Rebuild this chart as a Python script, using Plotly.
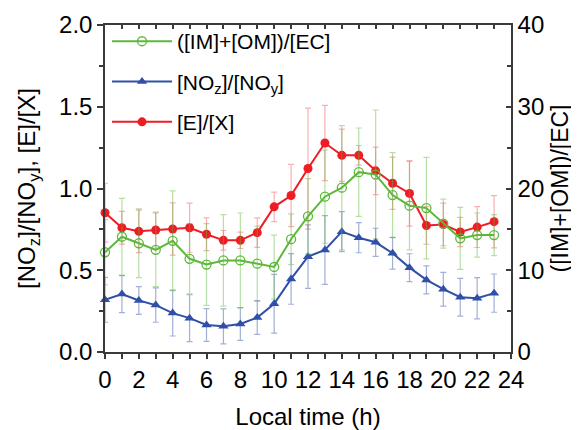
import plotly.graph_objects as go

hours = list(range(24))

# ([IM]+[OM])/[EC]  (right axis)
im_om_ec = [12.2, 14.1, 13.3, 12.5, 13.6, 11.4, 10.7, 11.2, 11.2, 10.8, 10.4, 13.8,
            16.6, 19.0, 20.1, 22.0, 21.7, 19.2, 17.9, 17.6, 15.7, 13.9, 14.3, 14.3]
im_om_ec_err = [4.0, 4.7, 4.2, 4.5, 6.1, 4.3, 5.0, 5.6, 5.8, 4.6, 3.9, 3.1,
                4.6, 5.7, 7.6, 5.4, 7.9, 5.2, 5.4, 6.2, 3.0, 3.8, 2.7, 2.5]

# [NOz]/[NOy]  (left axis)
noz_noy = [0.319, 0.354, 0.315, 0.287, 0.238, 0.207, 0.165, 0.157, 0.171, 0.211, 0.295, 0.447,
           0.583, 0.624, 0.736, 0.699, 0.671, 0.604, 0.516, 0.441, 0.384, 0.335, 0.329, 0.360]
noz_noy_err = [0.137, 0.113, 0.085, 0.105, 0.140, 0.143, 0.100, 0.107, 0.100, 0.103, 0.180, 0.155,
               0.194, 0.210, 0.122, 0.092, 0.086, 0.097, 0.085, 0.086, 0.103, 0.115, 0.126, 0.117]

# [E]/[X]  (left axis)
e_x = [0.852, 0.760, 0.738, 0.746, 0.752, 0.760, 0.720, 0.683, 0.683, 0.730, 0.888, 0.957,
       1.122, 1.278, 1.203, 1.203, 1.108, 1.032, 0.970, 0.774, 0.780, 0.734, 0.764, 0.797]
e_x_err = [0.18, 0.10, 0.13, 0.11, 0.16, 0.15, 0.10, 0.06, 0.05, 0.09, 0.09, 0.19,
           0.37, 0.23, 0.16, 0.06, 0.145, 0.16, 0.20, 0.115, 0.13, 0.09, 0.125, 0.16]

x_ticks = list(range(0, 25, 2))

GREEN = "#5cb83a"
BLUE = "#3050a8"
RED = "#ee1c24"
AXC = "#3a3a3a"
FONT = "Liberation Sans, Arial, sans-serif"

fig = go.Figure()

fig.add_trace(go.Scatter(
    x=hours, y=im_om_ec, yaxis="y2", name="([IM]+[OM])/[EC]", legendgroup="g1",
    mode="lines+markers",
    line=dict(color=GREEN, width=2),
    marker=dict(symbol="circle-open", size=9, color=GREEN, line=dict(width=1.3, color=GREEN)),
    error_y=dict(type="data", array=im_om_ec_err, color="rgba(93,184,58,0.45)", thickness=1.2, width=3),
    cliponaxis=False,
))
fig.add_trace(go.Scatter(
    x=hours, y=noz_noy, name="[NO<sub>z</sub>]/[NO<sub>y</sub>]", legendgroup="g2",
    mode="lines+markers",
    line=dict(color=BLUE, width=2),
    marker=dict(symbol="triangle-up", size=9, color=BLUE),
    error_y=dict(type="data", array=noz_noy_err, color="rgba(48,80,168,0.45)", thickness=1.2, width=3),
    cliponaxis=False,
))
fig.add_trace(go.Scatter(
    x=hours, y=e_x, name="[E]/[X]", legendgroup="g3",
    mode="lines+markers",
    line=dict(color=RED, width=2),
    marker=dict(symbol="circle", size=9, color=RED),
    error_y=dict(type="data", array=e_x_err, color="rgba(238,28,36,0.35)", thickness=1.2, width=3),
    cliponaxis=False,
))
# invisible trace to activate top axis
fig.add_trace(go.Scatter(x=[0, 24], y=[0, 0], xaxis="x2", mode="none", showlegend=False, hoverinfo="skip"))

fig.update_layout(
    width=571, height=422,
    margin=dict(l=97, r=68, t=17, b=78, autoexpand=False),
    plot_bgcolor="white", paper_bgcolor="white",
    font=dict(family=FONT, size=24, color="black"),
    showlegend=True,
    legend=dict(x=0.005, y=1.012, xanchor="left", yanchor="top", bgcolor="rgba(0,0,0,0)",
                font=dict(size=21), tracegroupgap=10, traceorder="grouped", itemwidth=60),
    xaxis=dict(range=[0, 24], tickvals=x_ticks, ticks="outside", ticklen=5, tickwidth=1.5,
               tickcolor=AXC, showline=True, linecolor=AXC, linewidth=1.5, showgrid=False,
               zeroline=False, tickfont=dict(size=24), automargin=False,
               minor=dict(dtick=1, ticks="outside", ticklen=5, tickwidth=1.5, tickcolor=AXC, showgrid=False),
               title=dict(text="Local time (h)", font=dict(size=24), standoff=20)),
    xaxis2=dict(range=[0, 24], overlaying="x", side="top", anchor="y", dtick=1, ticks="inside",
                ticklen=4, tickwidth=1.5, tickcolor=AXC, showticklabels=False, showline=True,
                linecolor=AXC, linewidth=1.5, showgrid=False, zeroline=False, automargin=False),
    yaxis=dict(range=[0, 2], dtick=0.5, tickformat=".1f", ticks="outside", ticklen=6, tickwidth=1.5,
               tickcolor=AXC, showline=True, linecolor=AXC, linewidth=1.5, showgrid=False,
               zeroline=False, tickfont=dict(size=24), automargin=False,
               minor=dict(dtick=0.25, ticks="outside", ticklen=4, tickwidth=1.5, tickcolor=AXC, showgrid=False),
               title=dict(text="[NO<sub>z</sub>]/[NO<sub>y</sub>], [E]/[X]", font=dict(size=24), standoff=17)),
    yaxis2=dict(range=[0, 40], dtick=10, overlaying="y", side="right", anchor="x", ticks="inside",
                ticklen=5, tickwidth=1.5, tickcolor=AXC, showline=True, linecolor=AXC, linewidth=1.5,
                showgrid=False, zeroline=False, tickfont=dict(size=24), automargin=False,
                minor=dict(dtick=5, ticks="inside", ticklen=4, tickwidth=1.5, tickcolor=AXC, showgrid=False),
                title=dict(text="([IM]+[OM])/[EC]", font=dict(size=23), standoff=9)),
)

fig.write_html("out.html")
